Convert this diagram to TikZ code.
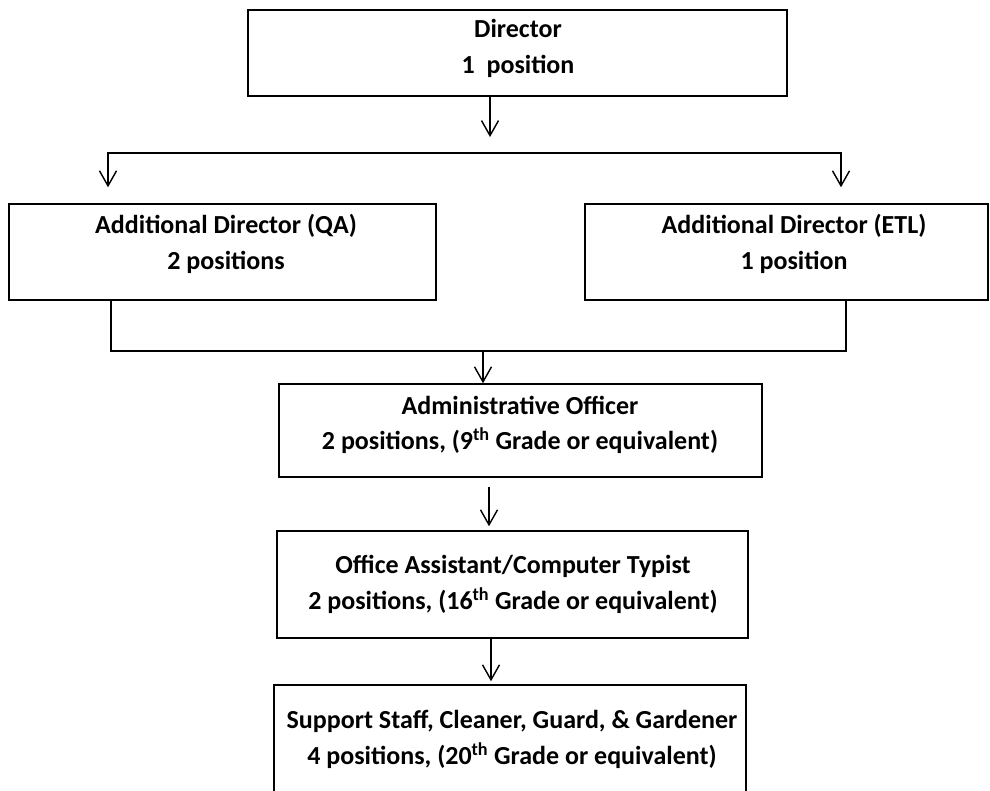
\documentclass[tikz,border=0pt]{standalone}
\usepackage{fontspec}
\setmainfont{Carlito}
\usetikzlibrary{arrows.meta}
\begin{document}
\begin{tikzpicture}[x=1pt,y=-1pt,
  box/.style={draw, line width=1.5pt, rectangle, inner sep=0pt},
  lbl/.style={align=center, inner sep=0pt, font=\fontsize{26}{35.5}\selectfont\bfseries},
  conn/.style={line width=1.4pt},
  arr/.style={conn, -{Straight Barb[length=15pt,width=17pt,line width=1.4pt]}},
  darr/.style={conn, {Straight Barb[length=15pt,width=17pt,line width=1.4pt]}-{Straight Barb[length=15pt,width=17pt,line width=1.4pt]}}
]
\clip (0,0) rectangle (990,790);
\fill[white] (0,0) rectangle (990,790);

% boxes
\node[box, minimum width=539pt, minimum height=86pt] (dir) at (517.5,53) {};
\node[box, minimum width=427pt, minimum height=96pt] (qa) at (222.5,252) {};
\node[box, minimum width=403pt, minimum height=96pt] (etl) at (786.5,252) {};
\node[box, minimum width=483pt, minimum height=93pt] (adm) at (520.5,430.5) {};
\node[box, minimum width=471pt, minimum height=107pt] (oa) at (512.5,584.5) {};
\node[box, minimum width=472pt, minimum height=125pt] (sup) at (510,747.5) {};

% texts
\node[lbl] (dirT) at (518,48.5) {Director\\1~ position};
\node[lbl] (qaT) at (226,244) {Additional Director (QA)\\2 positions};
\node[lbl] (etlT) at (794,244) {Additional Director (ETL)\\1 position};
\node[lbl] (admT) at (520,425) {Administrative Officer\\2 positions, (9\textsuperscript{th} Grade or equivalent)};
\node[lbl] (oaT) at (513,584.5) {Office Assistant/Computer Typist\\2 positions, (16\textsuperscript{th} Grade or equivalent)};
\node[lbl] (supT) at (512,739.5) {Support Staff, Cleaner, Guard, \& Gardener\\4 positions, (20\textsuperscript{th} Grade or equivalent)};

% coordinates for junctions
\coordinate (t1) at (108,153);
\coordinate (t2) at (841,153);
\coordinate (dj) at (490,137);
\coordinate (j1) at (111,351);
\coordinate (j2) at (846,351);
\coordinate (mj) at (483,351);

% connectors
\draw[arr] (dir.south -| dj) -- (dj);
\draw[darr, shorten <=16pt, shorten >=16pt] (qa.north -| t1) -- (t1) -- (t2) -- (etl.north -| t2);
\draw[conn] (qa.south -| j1) -- (j1) -- (j2) -- (etl.south -| j2);
\draw[arr] (mj) -- (adm.north -| mj);
\draw[arr, shorten <=9pt, shorten >=4pt] ([xshift=-31.5pt]adm.south) -- ([xshift=-31.5pt]adm.south |- oa.north);
\draw[arr, shorten >=3pt] ([xshift=-21.5pt]oa.south) -- ([xshift=-21.5pt]oa.south |- sup.north);
\end{tikzpicture}
\end{document}
